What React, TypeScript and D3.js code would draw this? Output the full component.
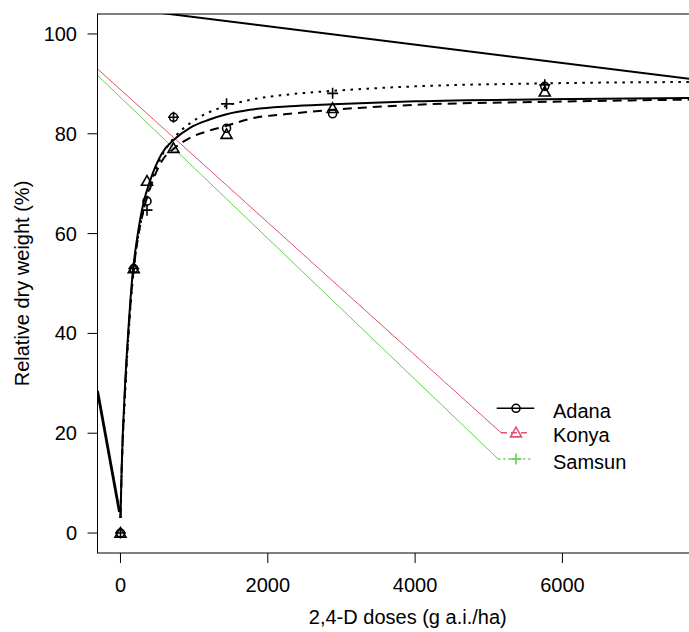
import React from "react";
import * as d3 from "d3";

// ---- data ----
const doses = [0, 180, 360, 720, 1440, 2880, 5760];
const adanaObs = [0, 53, 66.5, 83.3, 81.1, 84.0, 89.5];
const konyaObs = [0, 53, 70.5, 77.1, 79.9, 85.1, 88.4];
const samsunObs = [0, 53, 64.7, 83.3, 86.0, 88.1, 89.8];

const fitDoses = [-312, 0, 16, 60, 106, 165, 220, 310, 400, 560, 740, 944, 1200, 1440, 1758, 2300, 2880, 4000, 5760, 8000];
const adanaFit = [28.5, 3, 13, 29, 40.5, 52, 58.5, 66, 70.5, 76, 79, 81.2, 82.8, 83.9, 84.8, 85.5, 85.9, 86.5, 86.9, 87.2];
const konyaFit = [28.5, 3, 12.5, 28, 39.5, 51, 57.5, 64.5, 69, 74.5, 77.2, 79.2, 80.6, 81.6, 83.0, 84.0, 84.8, 85.8, 86.4, 86.9];
const samsunFit = [28.5, 3, 12, 27, 39, 50.5, 57.5, 64.5, 69.5, 75.5, 79.4, 82.1, 84.3, 85.6, 86.8, 87.9, 88.6, 89.5, 90.1, 90.4];

// straight stray lines (x1, y1, x2, y2 in data units)
const blackSegment = [-312, 105.8, 8112, 90.3];
const redSegment = [-312, 93.0, 5166, 20.1];
const greenSegment = [-312, 91.7, 5130, 14.8];

const xTicks = [0, 2000, 4000, 6000];
const yTicks = [0, 20, 40, 60, 80, 100];
const legendNames = ["Adana", "Konya", "Samsun"];
const legendColors = ["#000000", "#DF536B", "#61D04F"];

const W = 689;
const H = 632;
const L = 97.5, R = 718, T = 14, B = 553;

const x = d3.scaleLinear().domain([-312, 8112]).range([L, R]);
const y = d3.scaleLinear().domain([-4, 104]).range([B, T]);

const font = "'Liberation Sans', Arial, Helvetica, sans-serif";

function Marker({ kind, cx, cy, color }: { kind: number; cx: number; cy: number; color: string }) {
  if (kind === 0) return <circle cx={cx} cy={cy} r={4} fill="none" stroke={color} strokeWidth={1.6} />;
  if (kind === 1) {
    const s = 5.5;
    const p = `${cx},${cy - s} ${cx - s * 1.0},${cy + s * 0.75} ${cx + s * 1.0},${cy + s * 0.75}`;
    return <polygon points={p} fill="none" stroke={color} strokeWidth={1.6} />;
  }
  const s = 5.5;
  return (
    <g stroke={color} strokeWidth={1.6}>
      <line x1={cx - s} x2={cx + s} y1={cy} y2={cy} />
      <line x1={cx} x2={cx} y1={cy - s} y2={cy + s} />
    </g>
  );
}

export default function App() {
  const line = d3
    .line<number>()
    .x((_, i) => x(fitDoses[i + 1]))
    .y((d) => y(d))
    .curve(d3.curveMonotoneX);

  const fits = [adanaFit, konyaFit, samsunFit];
  const dashes = ["none", "9,6", "2.5,5.5"];
  const obs = [adanaObs, konyaObs, samsunObs];
  const segs = [
    { s: blackSegment, c: "#000", w: 2 },
    { s: redSegment, c: "#DF536B", w: 1 },
    { s: greenSegment, c: "#61D04F", w: 1 },
  ];
  const legY = [408.3, 432.7, 459];
  const legX1 = [496.7, 501, 498.3];
  const legX2 = [534.3, 527, 532.7];

  return (
    <svg width={W} height={H} style={{ position: "absolute", left: 0, top: 0, background: "#fff" }} fontFamily={font}>
      <defs>
        <clipPath id="plot">
          <rect x={L} y={T} width={R - L} height={B - T} />
        </clipPath>
      </defs>
      <g clipPath="url(#plot)">
        {segs.map((g, i) => (
          <line key={i} x1={x(g.s[0])} y1={y(g.s[1])} x2={x(g.s[2])} y2={y(g.s[3])} stroke={g.c} strokeWidth={g.w} />
        ))}
        {/* straight left part of the fitted curves */}
        <line x1={x(fitDoses[0])} y1={y(adanaFit[0])} x2={x(fitDoses[1]) - 1} y2={y(adanaFit[1]) - 6} stroke="#000" strokeWidth={2.8} />
        {fits.map((f, i) => (
          <path key={i} d={line(f.slice(1)) || ""} fill="none" stroke="#000" strokeWidth={2} strokeDasharray={dashes[i]} />
        ))}
        {obs.map((o, k) =>
          o.map((v, i) => <Marker key={`${k}-${i}`} kind={k} cx={x(doses[i])} cy={y(v)} color="#000" />)
        )}
        {/* legend */}
        {legendNames.map((n, i) => (
          <g key={n}>
            <line x1={legX1[i]} x2={legX2[i]} y1={legY[i]} y2={legY[i]} stroke={legendColors[i]} strokeWidth={1.5} strokeDasharray={i === 0 ? "none" : i === 1 ? "6,4" : "2,3"} />
            <Marker kind={i} cx={516} cy={legY[i]} color={legendColors[i]} />
            <text x={553} y={legY[i] + 9.5} fontSize={20} fill="#000">{n}</text>
          </g>
        ))}
      </g>
      {/* box */}
      <rect x={L} y={T} width={R - L} height={B - T} fill="none" stroke="#000" strokeWidth={1} />
      {/* y axis */}
      {yTicks.map((t) => (
        <g key={t}>
          <line x1={L - 10} x2={L} y1={y(t)} y2={y(t)} stroke="#000" strokeWidth={1} />
          <text x={77} y={y(t) + 7} fontSize={20} textAnchor="end" fill="#000">{t}</text>
        </g>
      ))}
      {xTicks.map((t) => (
        <g key={t}>
          <line x1={x(t)} x2={x(t)} y1={B} y2={B + 10} stroke="#000" strokeWidth={1} />
          <text x={x(t)} y={592} fontSize={20} textAnchor="middle" fill="#000">{t}</text>
        </g>
      ))}
      <text x={(L + R) / 2} y={624} fontSize={20} textAnchor="middle" fill="#000">2,4-D doses (g a.i./ha)</text>
      <text transform={`translate(29,${(T + B) / 2}) rotate(-90)`} fontSize={20} textAnchor="middle" fill="#000">Relative dry weight (%)</text>
    </svg>
  );
}
